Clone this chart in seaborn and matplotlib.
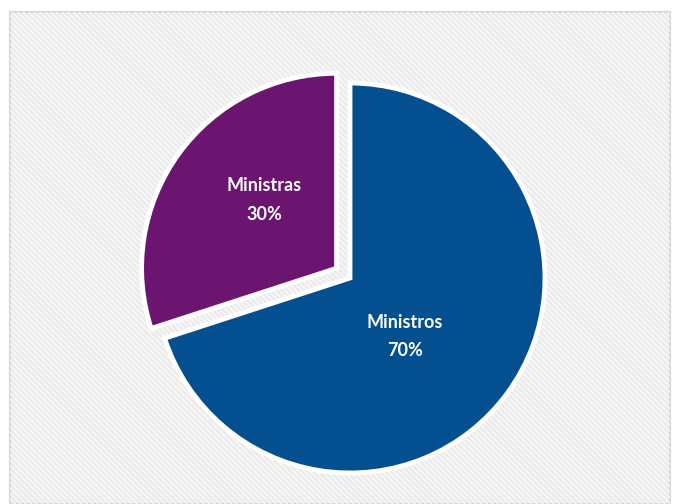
import matplotlib
matplotlib.use("Agg")
import matplotlib.pyplot as plt
import seaborn as sns
from matplotlib.patches import Rectangle

# Datos
etiquetas = ["Ministros", "Ministras"]
valores = [70, 30]
colores = ["#034f8f", "#6b1470"]
separacion = [0, 0.085]
# posición de cada rótulo dentro de su porción (unidades del radio)
pos_rotulos = [(0.28, -0.30), (-0.44, 0.40)]

sns.set_theme(style="white")
plt.rcParams["font.family"] = ["Lato", "DejaVu Sans"]
plt.rcParams["hatch.linewidth"] = 1.0

fig = plt.figure(figsize=(6.73, 5.04), dpi=100)
fig.patch.set_facecolor("white")

# Fondo rayado con borde
caja = (10 / 673, 0)
ancho, alto = 660 / 673, 492 / 504
fig.patches.append(Rectangle(caja, ancho, alto, transform=fig.transFigure,
                             facecolor="#ebebeb", edgecolor="#d6d6d6", linewidth=1.5, zorder=-2))
fig.patches.append(Rectangle(caja, ancho, alto, transform=fig.transFigure,
                             facecolor="none", edgecolor="#fafafa", linewidth=0,
                             hatch="\\" * 6, zorder=-1))

ax = fig.add_axes([0, 0, 1, 1])
ax.patch.set_visible(False)


def formato(pct):
    i = [round(v) for v in valores].index(round(pct))
    return f"{etiquetas[i]}\n{pct:.0f}%"


wedges, textos, rotulos = ax.pie(valores, colors=colores, explode=separacion, startangle=90,
                                 counterclock=False, autopct=formato, pctdistance=0.45,
                                 wedgeprops=dict(edgecolor="white", linewidth=3.5))
for t, pos in zip(rotulos, pos_rotulos):
    t.set_position(pos)
    t.set_color("white")
    t.set_fontsize(13)
    t.set_fontweight("bold")
    t.set_linespacing(1.8)

ax.set_xlim(-350 / 195, 323 / 195)
ax.set_ylim(-226 / 195, 278 / 195)
ax.set_aspect("auto")
ax.axis("off")

fig.savefig("out.png", dpi=100)
